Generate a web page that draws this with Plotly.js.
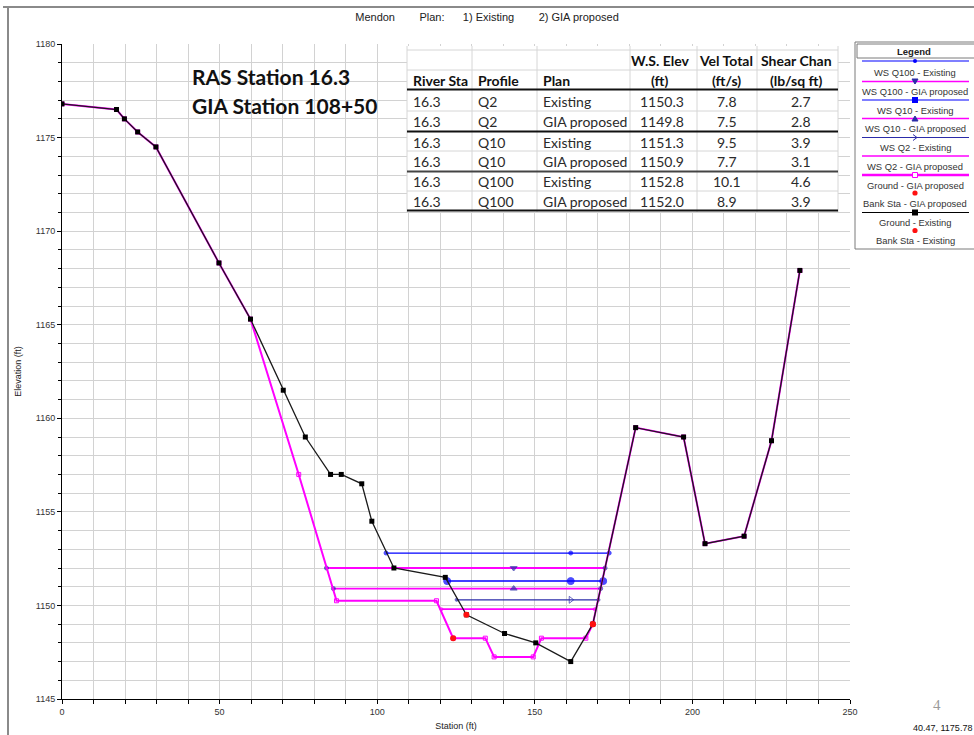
<!DOCTYPE html>
<html>
<head>
<meta charset="utf-8">
<script src="https://cdn.plot.ly/plotly-3.0.1.min.js"></script>
<style>
html,body{margin:0;padding:0;background:#fff;}
#chart{width:974px;height:735px;}
</style>
</head>
<body>
<div id="chart"></div>
<script>
// ---------------- DATA ----------------
// Ground - Existing (station ft, elevation ft)
const groundExSta  = [0, 17.3, 19.8, 24.0, 29.8, 49.8, 59.8, 70.2, 77.2, 85.2, 88.6, 95.1, 98.3, 105.3, 121.6, 128.3, 140.4, 150.3, 161.4, 168.4, 182.0, 197.2, 204.0, 216.4, 225.1, 234.1];
const groundExElev = [1176.8, 1176.5, 1176.0, 1175.3, 1174.5, 1168.3, 1165.3, 1161.5, 1159.0, 1157.0, 1157.0, 1156.5, 1154.5, 1152.0, 1151.5, 1149.5, 1148.5, 1148.0, 1147.0, 1149.0, 1159.5, 1159.0, 1153.3, 1153.7, 1158.8, 1167.9];
// Ground - GIA proposed
const groundGiaSta  = [0, 17.3, 19.8, 24.0, 29.8, 49.8, 59.8, 75.1, 87.1, 118.8, 124.1, 134.3, 137.1, 149.5, 152.1, 166.2, 168.4, 182.0, 197.2, 204.0, 216.4, 225.1, 234.1];
const groundGiaElev = [1176.8, 1176.5, 1176.0, 1175.3, 1174.5, 1168.3, 1165.3, 1157.0, 1150.25, 1150.25, 1148.25, 1148.25, 1147.25, 1147.25, 1148.25, 1148.25, 1149.0, 1159.5, 1159.0, 1153.3, 1153.7, 1158.8, 1167.9];
// Bank stations
const bankExSta   = [128.3, 168.4];
const bankExElev  = [1149.5, 1149.0];
const bankGiaSta  = [124.1, 168.4];
const bankGiaElev = [1148.25, 1149.0];
// Water surface extents (left edge, marker, right edge), stations ft
const wsQ100ExSta  = [102.8, 161.4, 173.6];
const wsQ100GiaSta = [83.9, 143.3, 172.3];
const wsQ10ExSta   = [122.2, 161.4, 171.7];
const wsQ10GiaSta  = [86.1, 143.3, 170.9];
const wsQ2ExSta    = [125.2, 161.4, 170.2];
const wsQ2GiaSta   = [120.4, 169.0];
// Results table
const tblRiverSta = ['16.3', '16.3', '16.3', '16.3', '16.3', '16.3'];
const tblProfile  = ['Q2', 'Q2', 'Q10', 'Q10', 'Q100', 'Q100'];
const tblPlan     = ['Existing', 'GIA proposed', 'Existing', 'GIA proposed', 'Existing', 'GIA proposed'];
const tblWsElev   = [1150.3, 1149.8, 1151.3, 1150.9, 1152.8, 1152.0];
const tblVel      = [7.8, 7.5, 9.5, 7.7, 10.1, 8.9];
const tblShear    = [2.7, 2.8, 3.9, 3.1, 4.6, 3.9];
const tblHeader1  = ['', '', '', 'W.S. Elev', 'Vel Total', 'Shear Chan'];
const tblHeader2  = ['River Sta', 'Profile', 'Plan', '(ft)', '(ft/s)', '(lb/sq ft)'];
const legendNames = ['WS Q100 - Existing', 'WS Q100 - GIA proposed', 'WS Q10 - Existing', 'WS Q10 - GIA proposed', 'WS Q2 - Existing', 'WS Q2 - GIA proposed', 'Ground - GIA proposed', 'Bank Sta - GIA proposed', 'Ground - Existing', 'Bank Sta - Existing'];

// ---------------- LAYOUT HELPERS ----------------
const L = 62, R = 850, T = 44, B = 699;
const px2x = p => (p - L) / (R - L);
const py2y = p => (B - p) / (B - T);
const MAG = '#ff00ff', BLUE = '#0000ff', DBLUE = '#2b2ba8';
const NB = n => '\u00a0'.repeat(n);

function ws(sta, elev, color, width, syms, sizes, mcolor) {
  return {
    x: sta, y: sta.map(() => elev), mode: 'lines+markers', type: 'scatter',
    line: {color: color, width: width},
    marker: {symbol: syms, size: sizes, color: mcolor, line: {width: 1, color: mcolor}},
    hoverinfo: 'x+y', showlegend: false
  };
}

const traces = [
  ws(wsQ2GiaSta, tblWsElev[1], MAG, 1.6, ['circle', 'circle'], [3, 3], MAG),
  ws(wsQ2ExSta, tblWsElev[0], DBLUE, 1.2, ['circle', 'triangle-right-open', 'circle'], [3, 6, 3], DBLUE),
  ws(wsQ10GiaSta, tblWsElev[3], MAG, 1.8, ['circle', 'triangle-up', 'circle'], [4, 6, 4], DBLUE),
  ws(wsQ10ExSta, tblWsElev[2], BLUE, 1.5, ['circle', 'circle', 'circle'], [7, 7, 7], BLUE),
  ws(wsQ100GiaSta, tblWsElev[5], MAG, 1.8, ['circle', 'triangle-down', 'circle'], [4, 6, 4], DBLUE),
  ws(wsQ100ExSta, tblWsElev[4], BLUE, 1.3, ['circle', 'circle', 'circle'], [4, 4, 4], BLUE),
  {x: groundGiaSta, y: groundGiaElev, mode: 'lines+markers', type: 'scatter', showlegend: false,
   line: {color: MAG, width: 2}, marker: {symbol: 'square-open', size: 4, color: MAG}},
  {x: groundExSta, y: groundExElev, mode: 'lines+markers', type: 'scatter', showlegend: false,
   line: {color: '#1a1a1a', width: 1.3}, marker: {symbol: 'square', size: 5, color: '#000'}},
  {x: bankGiaSta, y: bankGiaElev, mode: 'markers', type: 'scatter', showlegend: false,
   marker: {symbol: 'circle', size: 6, color: '#ff1010'}},
  {x: bankExSta, y: bankExElev, mode: 'markers', type: 'scatter', showlegend: false,
   marker: {symbol: 'circle', size: 6, color: '#ff1010'}}
];

// ---------------- SHAPES & ANNOTATIONS ----------------
const shapes = [];
const annotations = [];
function line(x0, y0, x1, y1, color, width, layer) {
  shapes.push({type: 'line', xref: 'paper', yref: 'paper', x0: px2x(x0), y0: py2y(y0), x1: px2x(x1), y1: py2y(y1),
    line: {color: color, width: width}, layer: layer || 'above'});
}
function rect(x0, y0, x1, y1, fill, lcolor, lwidth) {
  shapes.push({type: 'rect', xref: 'paper', yref: 'paper', x0: px2x(x0), y0: py2y(y0), x1: px2x(x1), y1: py2y(y1),
    fillcolor: fill, line: {color: lcolor, width: lwidth}, layer: 'above'});
}
function dot(cx, cy, r, color) {
  shapes.push({type: 'circle', xref: 'paper', yref: 'paper', x0: px2x(cx - r), y0: py2y(cy - r), x1: px2x(cx + r), y1: py2y(cy + r),
    fillcolor: color, line: {color: color, width: 0}, layer: 'above'});
}
function poly(pts, fill, lcolor, closed) {
  let d = pts.map((p, i) => (i ? 'L' : 'M') + px2x(p[0]) + ',' + py2y(p[1])).join(' ') + (closed ? ' Z' : '');
  shapes.push({type: 'path', xref: 'paper', yref: 'paper', path: d, fillcolor: fill, line: {color: lcolor, width: 1}, layer: 'above'});
}
function text(x, y, t, opts) {
  opts = opts || {};
  annotations.push({xref: 'paper', yref: 'paper', x: px2x(x), y: py2y(y), text: t, showarrow: false,
    xanchor: opts.xanchor || 'center', yanchor: 'middle',
    font: {family: opts.family || 'Arial', size: opts.size || 9, color: opts.color || '#222'}});
}

// outer frame
line(3, 7, 980, 7, '#8a8a8a', 2);
line(8, 6, 8, 740, '#8a8a8a', 2);

// Results table
const colX = [407, 472, 537, 630, 697, 757, 838];
rect(407, 46, 838, 212, '#ffffff', 'rgba(0,0,0,0)', 0);
colX.forEach(c => line(c, 46, c, 212, '#d6d6d6', 1));
[50, 70, 111, 151, 191].forEach(r => line(407, r, 838, r, '#d6d6d6', 1));
line(407, 89.5, 838, 89.5, '#111', 2);
line(407, 131.5, 838, 131.5, '#111', 2);
line(407, 171.5, 838, 171.5, '#444', 2);
line(407, 210.5, 838, 210.5, '#111', 2);
const TF = 'Lato', TS = 14;
const numCenters = [662, 727, 801];
const hdrCenters = [660, 726, 796];
const leftX = [411, 476, 541];
tblHeader1.forEach((h, i) => { if (h) text(hdrCenters[i - 3], 60, '<b>' + h + '</b>', {family: TF, size: TS, color: '#111'}); });
tblHeader2.forEach((h, i) => {
  if (i < 3) text(leftX[i], 80, '<b>' + h + '</b>', {family: TF, size: TS, color: '#111', xanchor: 'left'});
  else text(hdrCenters[i - 3], 80, '<b>' + h + '</b>', {family: TF, size: TS, color: '#111'});
});
const rowY = [101.5, 121.5, 142, 161.5, 181.5, 201.5];
rowY.forEach((y, r) => {
  text(leftX[0], y, tblRiverSta[r], {family: TF, size: TS, color: '#2a2a2a', xanchor: 'left'});
  text(leftX[1], y, tblProfile[r], {family: TF, size: TS, color: '#2a2a2a', xanchor: 'left'});
  text(leftX[2], y, tblPlan[r], {family: TF, size: TS, color: '#2a2a2a', xanchor: 'left'});
  text(numCenters[0], y, tblWsElev[r].toFixed(1), {family: TF, size: TS, color: '#2a2a2a'});
  text(numCenters[1], y, tblVel[r].toFixed(1), {family: TF, size: TS, color: '#2a2a2a'});
  text(numCenters[2], y, tblShear[r].toFixed(1), {family: TF, size: TS, color: '#2a2a2a'});
});

// Station labels
text(190, 77, '<b>RAS Station 16.3</b>', {family: TF, size: 21, color: '#111', xanchor: 'left'});
text(190, 105, '<b>GIA Station 108+50</b>', {family: TF, size: 21, color: '#111', xanchor: 'left'});

// Custom legend (HEC-RAS style: sample line above centred name)
rect(855, 42, 985, 249, '#ffffff', '#7a7a7a', 1);
rect(857, 44, 983, 58, '#ffffff', '#7a7a7a', 1);
text(914, 51, '<b>Legend</b>', {size: 9.5, color: '#222'});
const legLineY = [61, 81.5, 100, 118.5, 137.5, 156, 175, 193, 212.5, 230.5];
const legTextY = [72, 91, 110, 128.5, 147.5, 166, 185, 203.5, 222, 241];
const legStyle = [
  {c: BLUE, w: 1.2, m: 'dot', mc: BLUE, r: 2},
  {c: MAG, w: 1.6, m: 'tdown', mc: DBLUE},
  {c: BLUE, w: 1.2, m: 'sq', mc: BLUE},
  {c: MAG, w: 1.6, m: 'tup', mc: DBLUE},
  {c: DBLUE, w: 1.2, m: 'chev', mc: DBLUE},
  {c: MAG, w: 1.6, m: '', mc: MAG},
  {c: MAG, w: 2.4, m: 'osq', mc: MAG},
  {c: null, m: 'dot', mc: '#ff1010', r: 2.6},
  {c: '#000', w: 1.2, m: 'sq', mc: '#000'},
  {c: null, m: 'dot', mc: '#ff1010', r: 2.6}
];
const MX = 915;
legendNames.forEach((n, i) => {
  const st = legStyle[i];
  const ly = legLineY[i];
  if (st.c) line(862, ly, 969, ly, st.c, st.w);
  if (st.m === 'dot') dot(MX, ly, st.r, st.mc);
  else if (st.m === 'sq') rect(MX - 3, ly - 3, MX + 3, ly + 3, st.mc, st.mc, 0);
  else if (st.m === 'osq') rect(MX - 2.5, ly - 2.5, MX + 2.5, ly + 2.5, '#ffffff', st.mc, 1);
  else if (st.m === 'tdown') poly([[MX - 3, ly - 2.5], [MX + 3, ly - 2.5], [MX, ly + 2.5]], st.mc, st.mc, true);
  else if (st.m === 'tup') poly([[MX - 3, ly + 2.5], [MX + 3, ly + 2.5], [MX, ly - 2.5]], st.mc, st.mc, true);
  else if (st.m === 'chev') poly([[MX - 2, ly - 3], [MX + 2, ly], [MX - 2, ly + 3]], 'rgba(0,0,0,0)', st.mc, false);
  text(915, legTextY[i], n, {size: 9.4, color: '#333'});
});

// bottom-right status texts
text(937, 705, '4', {family: 'Liberation Serif', size: 15, color: '#9a9a9a'});
text(911, 728, '40.47, 1175.78', {size: 9, color: '#111', xanchor: 'left'});

const axisFont = {family: 'Arial', size: 9, color: '#333'};
const layout = {
  width: 974, height: 735, autosize: false,
  margin: {l: L, r: 974 - R, t: T, b: 735 - B},
  paper_bgcolor: '#ffffff', plot_bgcolor: '#ffffff',
  showlegend: false,
  title: {text: 'Mendon' + NB(8) + 'Plan:' + NB(6) + '1) Existing' + NB(8) + '2) GIA proposed',
          font: {family: 'Arial', size: 11, color: '#222'}, x: 487 / 974, xref: 'container', xanchor: 'center',
          y: 1 - 17 / 735, yref: 'container', yanchor: 'middle'},
  xaxis: {
    range: [0, 250], tick0: 0, dtick: 50, ticks: 'outside', ticklen: 4, tickcolor: '#000',
    showline: true, linecolor: '#000', linewidth: 1, zeroline: false,
    showgrid: true, gridcolor: '#d2d2d2', gridwidth: 1,
    minor: {dtick: 10, ticks: 'outside', ticklen: 4, tickcolor: '#000', showgrid: true, gridcolor: '#d2d2d2', gridwidth: 1},
    tickfont: axisFont,
    title: {text: 'Station (ft)', font: {family: 'Arial', size: 9, color: '#222'}, standoff: 6}
  },
  yaxis: {
    range: [1145, 1180], tick0: 1145, dtick: 5, ticks: 'outside', ticklen: 4, tickcolor: '#000',
    showline: true, linecolor: '#000', linewidth: 1, zeroline: false,
    showgrid: true, gridcolor: '#d2d2d2', gridwidth: 1,
    minor: {dtick: 1, ticks: 'outside', ticklen: 3, tickcolor: '#000', showgrid: true, gridcolor: '#d2d2d2', gridwidth: 1},
    tickfont: axisFont,
    title: {text: 'Elevation (ft)', font: {family: 'Arial', size: 9, color: '#222'}, standoff: 12}
  },
  shapes: shapes,
  annotations: annotations
};

Plotly.newPlot('chart', traces, layout, {displayModeBar: false, staticPlot: true});
</script>
</body>
</html>
